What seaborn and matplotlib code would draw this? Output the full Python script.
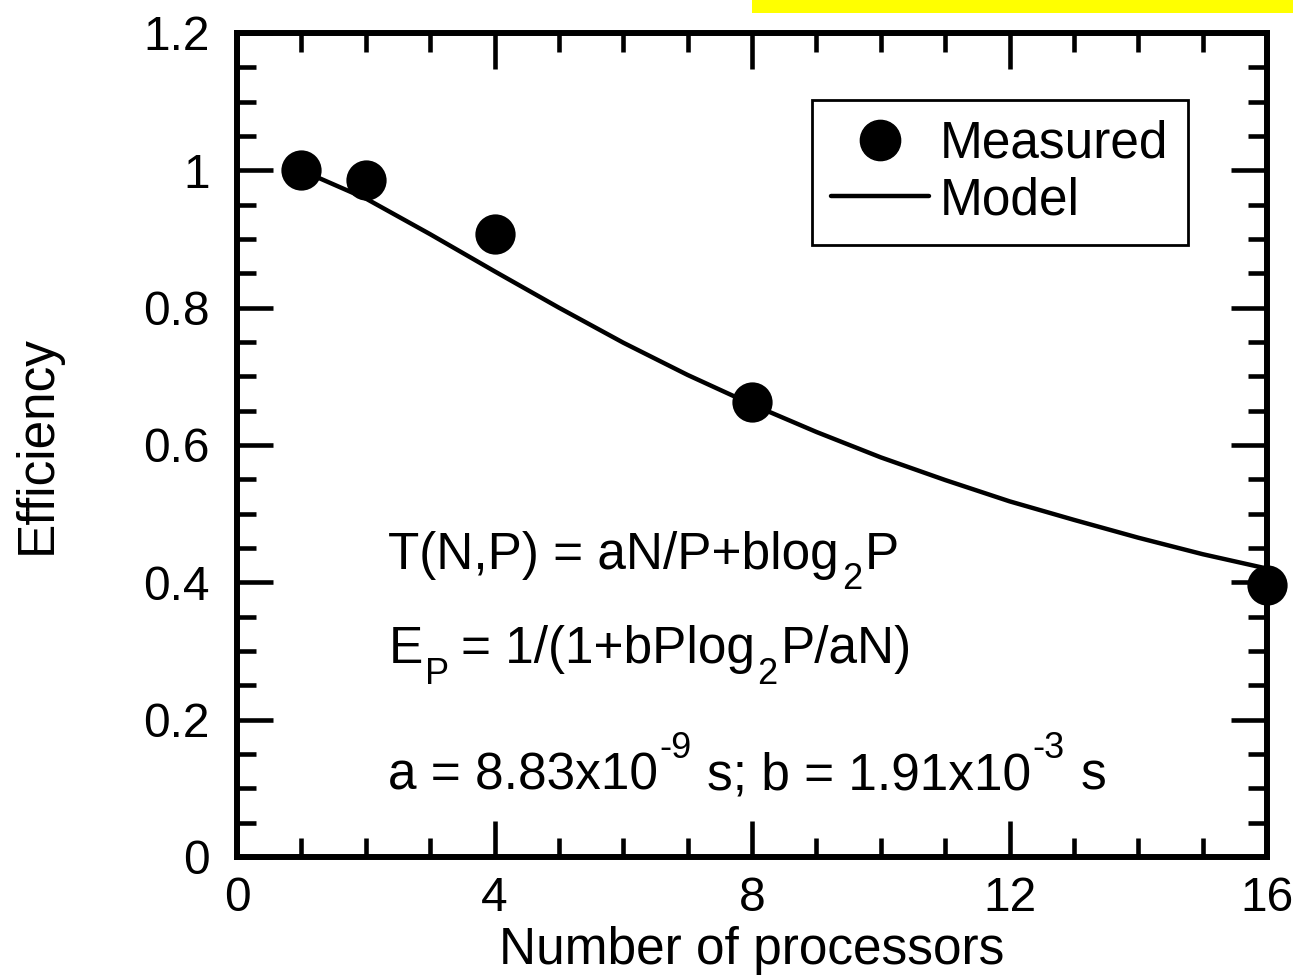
import matplotlib
matplotlib.use("Agg")
import matplotlib.pyplot as plt
import matplotlib.patches as mpatches
from matplotlib.lines import Line2D
from matplotlib.ticker import MultipleLocator
from matplotlib.transforms import offset_copy
import seaborn as sns
import pandas as pd

# Measured parallel efficiency
procs_measured = [1, 2, 4, 8, 16]
eff_measured = [1.0, 0.986, 0.907, 0.663, 0.396]

# Model curve E_P = 1/(1+bPlog2P/aN), evaluated at each processor count
procs_model = [1, 2, 3, 4, 5, 6, 7, 8, 9, 10, 11, 12, 13, 14, 15, 16]
eff_model = [1.0, 0.959, 0.907, 0.853, 0.800, 0.749, 0.702, 0.659,
             0.619, 0.582, 0.549, 0.518, 0.491, 0.465, 0.441, 0.420]

x_ticks = [0, 4, 8, 12, 16]
y_ticks = [0, 0.2, 0.4, 0.6, 0.8, 1.0, 1.2]
y_tick_labels = ["0", "0.2", "0.4", "0.6", "0.8", "1", "1.2"]

sns.set_theme(style="ticks")
plt.rcParams["font.family"] = ["Liberation Sans", "DejaVu Sans"]
for key in ["text.color", "axes.labelcolor", "xtick.color", "ytick.color", "axes.edgecolor"]:
    plt.rcParams[key] = "black"

FS = 37        # main text size
FS_TICK = 34.5  # tick label size
FS_SMALL = 26  # sub/superscript size

fig = plt.figure(figsize=(12.93, 9.75), dpi=100)
ax = fig.add_axes([237 / 1293, 1 - 857 / 975, (1267 - 237) / 1293, (857 - 33) / 975])

# highlight strip along the top edge
fig.patches.append(mpatches.Rectangle((752 / 1293, 1 - 13 / 975), 1 - 752 / 1293, 13 / 975,
                                      transform=fig.transFigure, facecolor="#FFFF00",
                                      edgecolor="none", zorder=0))

df_model = pd.DataFrame({"P": procs_model, "E": eff_model})
df_meas = pd.DataFrame({"P": procs_measured, "E": eff_measured})

sns.lineplot(data=df_model, x="P", y="E", ax=ax, color="black", linewidth=3.2,
             zorder=2, legend=False)
sns.scatterplot(data=df_meas, x="P", y="E", ax=ax, color="black", s=840,
                edgecolor="black", linewidth=0, zorder=3, legend=False, clip_on=False)

ax.set_xlim(0, 16)
ax.set_ylim(0, 1.2)
ax.set_xticks(x_ticks)
ax.set_xticklabels([str(v) for v in x_ticks])
ax.set_yticks(y_ticks)
ax.set_yticklabels(y_tick_labels)
ax.xaxis.set_minor_locator(MultipleLocator(1))
ax.yaxis.set_minor_locator(MultipleLocator(0.05))

ax.tick_params(axis="both", which="both", direction="in", top=True, right=True,
               colors="black")
ax.tick_params(axis="both", which="major", length=26, width=3.3, labelsize=FS_TICK)
ax.tick_params(axis="both", which="minor", length=13.5, width=3.3)
ax.tick_params(axis="x", which="major", pad=14)
ax.tick_params(axis="y", which="major", pad=19.5)
for sp in ax.spines.values():
    sp.set_linewidth(4.3)
    sp.set_color("black")
    sp.set_visible(True)

ax.set_xlabel("Number of processors", fontsize=FS, labelpad=3)
ax.set_ylabel("Efficiency", fontsize=FS, labelpad=59)

renderer = fig.canvas.get_renderer()


def rich_text(x, y, parts):
    """Write text pieces one after another; each piece is (text, size, dy, gap_before) in points."""
    dx = 0.0
    for s, size, dy, gap in parts:
        dx += gap
        tr = offset_copy(ax.transData, fig=fig, x=dx, y=dy, units="points")
        t = ax.text(x, y, s, fontsize=size, va="baseline", ha="left", transform=tr)
        dx += t.get_window_extent(renderer).width * 72.0 / fig.dpi


SUB = -15
SUP = 23
rich_text(2.35, 0.42, [("T(N,P) = aN/P+blog", FS, 0, 0), ("2", FS_SMALL, SUB, 2),
                       ("P", FS, 0, 2)])
rich_text(2.35, 0.283, [("E", FS, 0, 0), ("P", FS_SMALL, SUB, 2),
                        ("= 1/(1+bPlog", FS, 0, 8), ("2", FS_SMALL, SUB, 2),
                        ("P/aN)", FS, 0, 2)])
rich_text(2.35, 0.0976, [("a = 8.83x10", FS, 0, 0), ("-9", FS_SMALL, SUP, 1),
                         ("s; b = 1.91x10", FS, 0, 11), ("-3", FS_SMALL, SUP, 1),
                         ("s", FS, 0, 11)])

handles = [
    Line2D([], [], marker="o", linestyle="none", color="black", markersize=29),
    Line2D([], [], color="black", linewidth=3.2),
]
leg = ax.legend(handles, ["Measured", "Model"], loc="upper right",
                bbox_to_anchor=(1188 / 1293, 1 - 100 / 975), bbox_transform=fig.transFigure,
                fontsize=FS, frameon=True, fancybox=False, framealpha=1,
                edgecolor="black", handlelength=1.9, handletextpad=0.22,
                labelspacing=0.15, borderpad=0.38, borderaxespad=0)
leg.get_frame().set_linewidth(2)

fig.savefig("out.png", dpi=100)
